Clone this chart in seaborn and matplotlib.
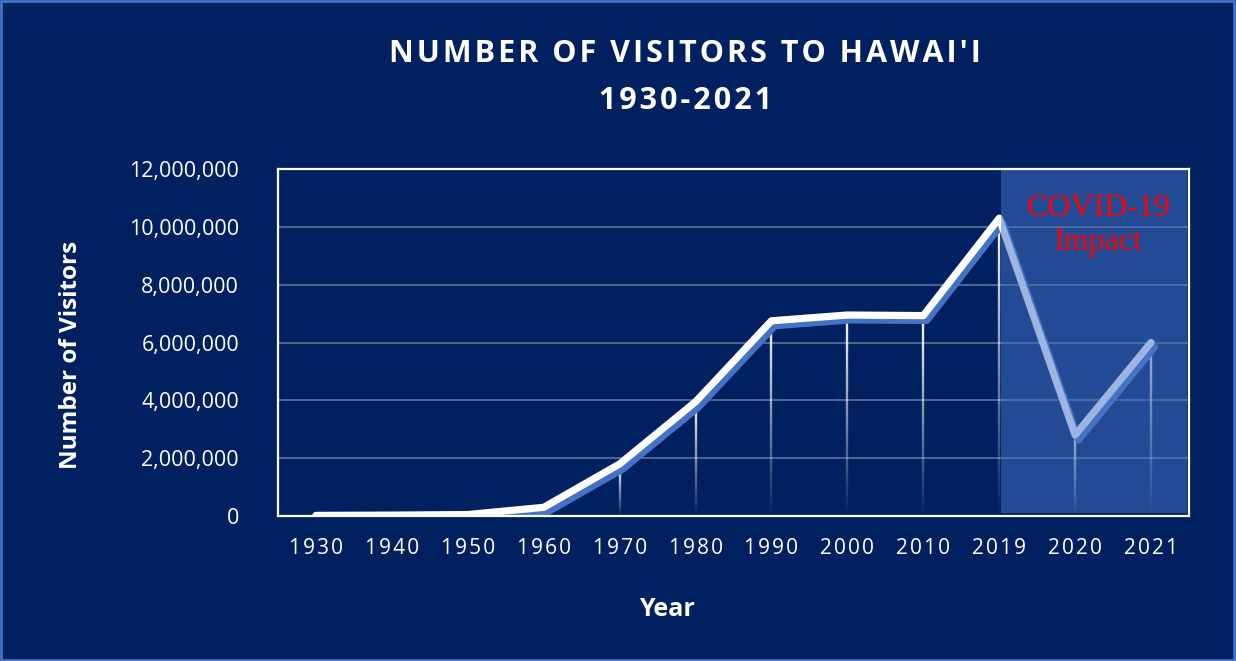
import numpy as np
import matplotlib
matplotlib.use("Agg")
import matplotlib.pyplot as plt
import matplotlib.patheffects as pe
from matplotlib.collections import LineCollection
from matplotlib.patches import Rectangle
import seaborn as sns
import pandas as pd

# ---- data ----
years = ["1930", "1940", "1950", "1960", "1970", "1980", "1990", "2000", "2010", "2019", "2020", "2021"]
visitors = [20000, 30000, 50000, 300000, 1800000, 3950000, 6750000, 6950000, 6930000, 10300000, 2800000, 6000000]
yticks = [0, 2000000, 4000000, 6000000, 8000000, 10000000, 12000000]
title_lines = ["NUMBER OF VISITORS TO HAWAI'I", "1930-2021"]
covid_label = "COVID-19\nImpact"
covid_start = "2019"

BG = "#002060"
ACCENT = "#4472C4"
HS = "\u200a"

sns.set_theme(style="white")
plt.rcParams["font.family"] = ["Open Sans", "DejaVu Sans"]

df = pd.DataFrame({"pos": np.arange(len(years)), "year": years, "visitors": visitors})

fig = plt.figure(figsize=(12.36, 6.61), dpi=100, facecolor=BG)
ax = fig.add_axes([278 / 1236, 1 - 516 / 661, (1189 - 278) / 1236, (516 - 169) / 661])
ax.set_facecolor(BG)

# grid
for yt in yticks[1:-1]:
    ax.axhline(yt, color="white", alpha=0.3, lw=1.5, zorder=0.5)

# gradient drop lines
N = 40
for p, v in zip(df["pos"], df["visitors"]):
    ys = np.linspace(0, v, N + 1)
    segs = [[(p, ys[k]), (p, ys[k + 1])] for k in range(N)]
    alphas = ((np.arange(N) + 0.5) / N) ** 1.0
    cols = [(1, 1, 1, a) for a in alphas]
    ax.add_collection(LineCollection(segs, colors=cols, linewidths=1.7, zorder=1))

# main line with offset shadow
sns.lineplot(data=df, x="pos", y="visitors", ax=ax, color="white", lw=5.2, zorder=3,
             sort=False, legend=False,
             path_effects=[pe.SimpleLineShadow(offset=(2.5, -3.5), shadow_color=ACCENT, alpha=1.0),
                           pe.Normal()])
ln = ax.get_lines()[-1]
ln.set_solid_capstyle("round")

# COVID box
i0 = years.index(covid_start)
x0 = i0 + 0.03
x1 = len(years) - 0.53
ax.add_patch(Rectangle((x0, 120000), x1 - x0, 11830000, facecolor=ACCENT, alpha=0.52,
                       edgecolor="none", zorder=4))
ax.text((x0 + x1) / 2 + 0.06, 10050000, covid_label, color="red", ha="center", va="center",
        fontsize=23, family=["Liberation Serif"], linespacing=1.2, zorder=5)

ax.set_xlim(-0.5, len(years) - 0.5)
ax.set_ylim(yticks[0], yticks[-1])
ax.set_xticks(df["pos"])
ax.set_xticklabels([HS.join(y) for y in years])
ax.set_yticks(yticks)
ax.set_yticklabels([f"{t:,}" for t in yticks])
ax.tick_params(axis="both", length=0, colors="white")
ax.tick_params(axis="x", pad=16, labelsize=15)
ax.tick_params(axis="y", pad=28, labelsize=15.5)
ax.set_xlabel("")
ax.set_ylabel("")
for s in ax.spines.values():
    s.set_visible(True)
    s.set_color("white")
    s.set_linewidth(1.6)
    s.set_zorder(6)

fig.text(685 / 1236, 1 - 54 / 661, HS.join(title_lines[0]), color="white", ha="center", va="center",
         fontsize=22, fontweight="bold")
fig.text(685 / 1236, 1 - 101 / 661, HS.join(title_lines[1]), color="white", ha="center", va="center",
         fontsize=22, fontweight="bold")
fig.text(71 / 1236, 1 - 355 / 661, "Number of Visitors", color="white", ha="center", va="center",
         rotation=90, fontsize=17.5, fontweight="bold")
fig.text(667 / 1236, 1 - 609 / 661, "Year", color="white", ha="center", va="center",
         fontsize=18, fontweight="bold")

# figure border
fig.patches.append(Rectangle((0.001, 0.002), 0.997, 0.996, transform=fig.transFigure,
                             fill=False, edgecolor=ACCENT, lw=2))

fig.savefig("out.png", dpi=100, facecolor=BG)
